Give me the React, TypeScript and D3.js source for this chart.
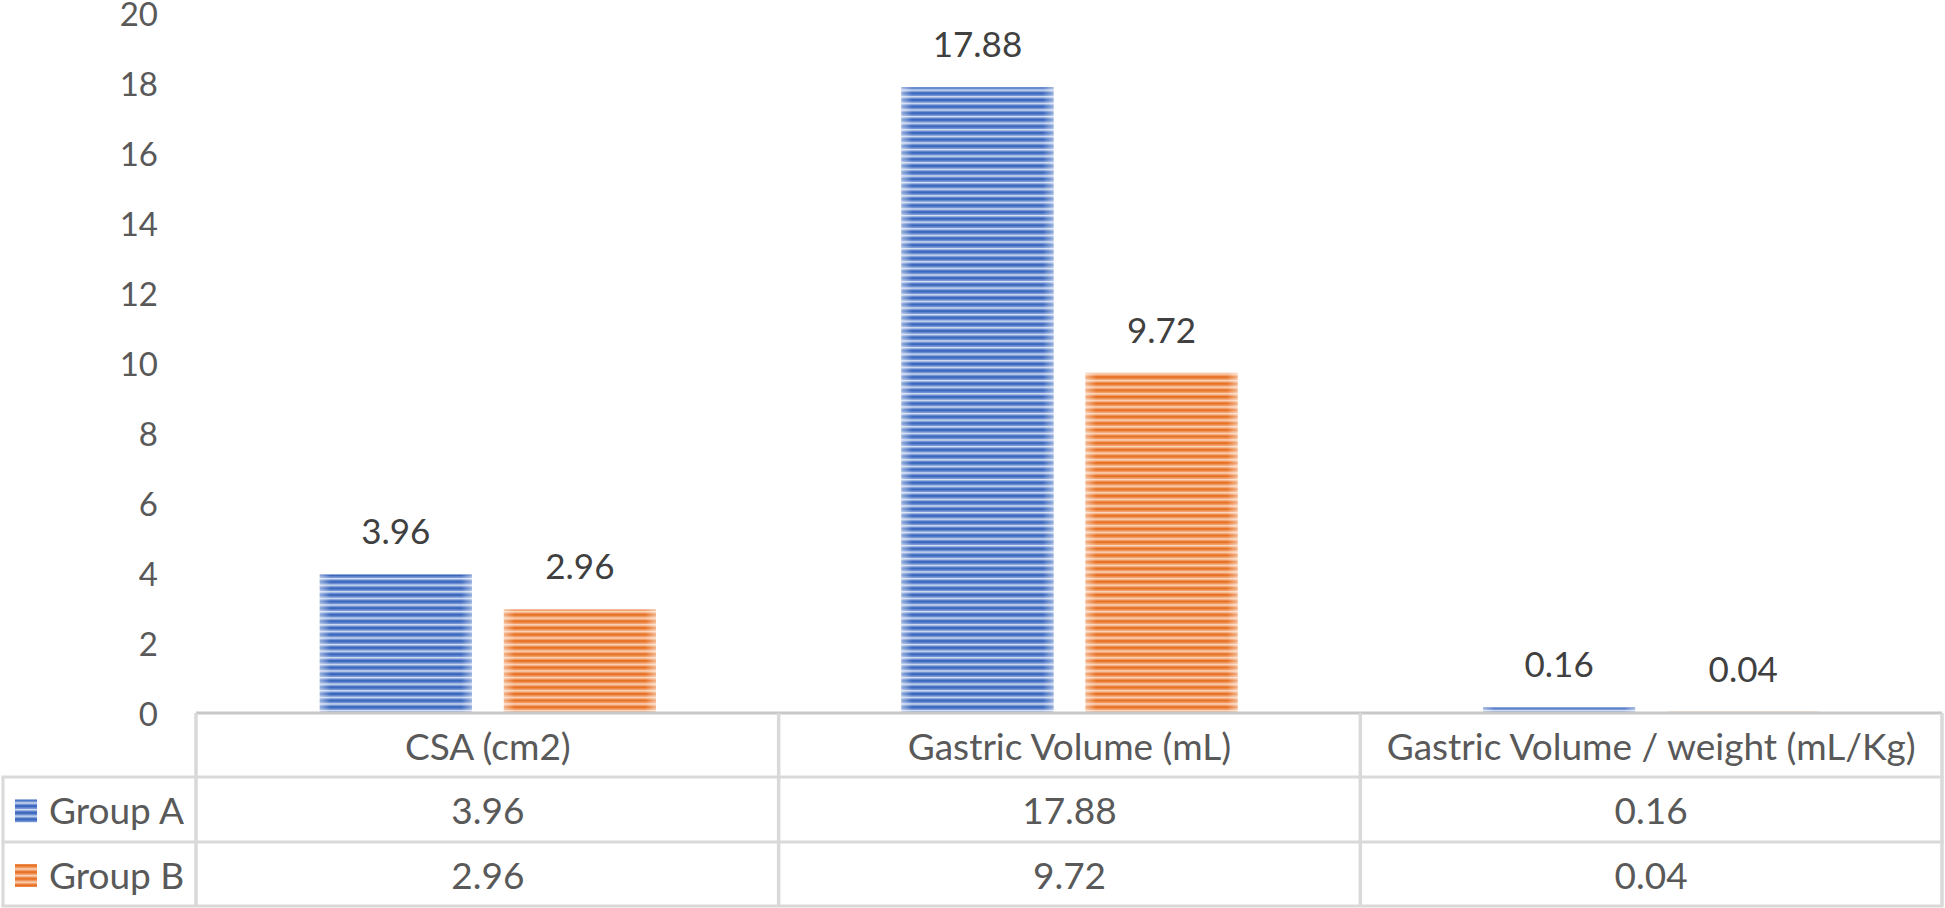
import React from "react";
import * as d3 from "d3";

const categories = ["CSA (cm2)", "Gastric Volume (mL)", "Gastric Volume / weight (mL/Kg)"];
const seriesNames = ["Group A", "Group B"];
const groupA = [3.96, 17.88, 0.16];
const groupB = [2.96, 9.72, 0.04];
const yTicks = [0, 2, 4, 6, 8, 10, 12, 14, 16, 18, 20];
const valueLabels = [
  ["3.96", "17.88", "0.16"],
  ["2.96", "9.72", "0.04"],
];

const W = 1945;
const H = 908;
const plotLeft = 197;
const plotRight = 1942;
const plotTop = 13;
const plotBottom = 713;
const legendLeft = 3;
const rowTops = [713, 777, 842, 906];

const FONT = "Lato, 'Open Sans', sans-serif";

export default function App() {
  const seriesValues = [groupA, groupB];
  const x0 = d3.scaleBand<string>().domain(categories).range([plotLeft, plotRight]).padding(0);
  const x1 = d3
    .scaleBand<string>()
    .domain(seriesNames)
    .range([0, x0.bandwidth()])
    .paddingInner(0.174)
    .paddingOuter(0.667);
  const y = d3.scaleLinear().domain([0, 20]).range([plotBottom, plotTop]);

  const colors = [
    { base: "#6589d0", dark: "#3b68bd", light: "#d6e1f4", id: "patA" },
    { base: "#f1955a", dark: "#e67226", light: "#fbd8c0", id: "patB" },
  ];

  const gridColor = "#d9d9d9";
  const colEdges = [plotLeft - 1, ...categories.map((c) => (x0(c) as number) + x0.bandwidth())];

  return (
    <svg
      width={W}
      height={H}
      style={{ position: "absolute", left: 0, top: 0, background: "#fff" }}
      fontFamily={FONT}
    >
      <defs>
        {colors.map((c) => (
          <pattern key={c.id} id={c.id} patternUnits="userSpaceOnUse" width={10} height={6.6}>
            <rect x={0} y={0} width={10} height={6.6} fill={c.base} />
            <rect x={0} y={0} width={10} height={2} fill={c.dark} />
            <rect x={0} y={3.6} width={10} height={1.6} fill={c.light} />
          </pattern>
        ))}
        <linearGradient id="edgeFade" x1="0" x2="1" y1="0" y2="0">
          <stop offset="0" stopColor="#fff" stopOpacity={0.45} />
          <stop offset="0.07" stopColor="#fff" stopOpacity={0} />
          <stop offset="0.93" stopColor="#fff" stopOpacity={0} />
          <stop offset="1" stopColor="#fff" stopOpacity={0.45} />
        </linearGradient>
      </defs>

      {/* y axis labels */}
      {yTicks.map((t) => (
        <text
          key={t}
          x={158}
          y={y(t)}
          dy="0.39em"
          textAnchor="end"
          fontSize={33}
          fill="#595959"
        >
          {t}
        </text>
      ))}

      {/* bars */}
      {seriesNames.map((s, si) =>
        categories.map((c, ci) => {
          const v = seriesValues[si][ci];
          const bx = (x0(c) as number) + (x1(s) as number);
          const by = y(v);
          const bh = plotBottom - by;
          return (
            <g key={s + c}>
              <rect x={bx} y={by} width={x1.bandwidth()} height={bh} fill={`url(#${colors[si].id})`} />
              <rect x={bx} y={by} width={x1.bandwidth()} height={bh} fill="url(#edgeFade)" />
              <text
                x={bx + x1.bandwidth() / 2}
                y={by - 30}
                textAnchor="middle"
                fontSize={35}
                fill="#404040"
              >
                {valueLabels[si][ci]}
              </text>
            </g>
          );
        })
      )}

      {/* table lines */}
      <line x1={plotLeft - 1} x2={plotRight} y1={plotBottom} y2={plotBottom} stroke="#c8c8c8" strokeWidth={3} />
      {rowTops.slice(1).map((ry) => (
        <line key={ry} x1={legendLeft - 1.5} x2={plotRight + 1.5} y1={ry} y2={ry} stroke={gridColor} strokeWidth={3} />
      ))}
      {colEdges.map((cx) => (
        <line key={cx} x1={cx} x2={cx} y1={plotBottom} y2={rowTops[3]} stroke={gridColor} strokeWidth={3.5} />
      ))}
      <line x1={legendLeft} x2={legendLeft} y1={rowTops[1]} y2={rowTops[3]} stroke={gridColor} strokeWidth={3} />

      {/* header texts */}
      {categories.map((c) => (
        <text
          key={c}
          x={(x0(c) as number) + x0.bandwidth() / 2}
          y={(rowTops[0] + rowTops[1]) / 2 + 2}
          dy="0.35em"
          textAnchor="middle"
          fontSize={37}
          fill="#595959"
        >
          {c}
        </text>
      ))}

      {/* rows */}
      {seriesNames.map((s, si) => {
        const cy = (rowTops[si + 1] + rowTops[si + 2]) / 2 + 2;
        return (
          <g key={s}>
            <rect x={15} y={cy - 12} width={22} height={23} fill={`url(#${colors[si].id})`} />
            <text x={49} y={cy} dy="0.35em" fontSize={37} fill="#595959">
              {s}
            </text>
            {categories.map((c, ci) => (
              <text
                key={c}
                x={(x0(c) as number) + x0.bandwidth() / 2}
                y={cy}
                dy="0.35em"
                textAnchor="middle"
                fontSize={37}
                fill="#595959"
              >
                {valueLabels[si][ci]}
              </text>
            ))}
          </g>
        );
      })}
    </svg>
  );
}
